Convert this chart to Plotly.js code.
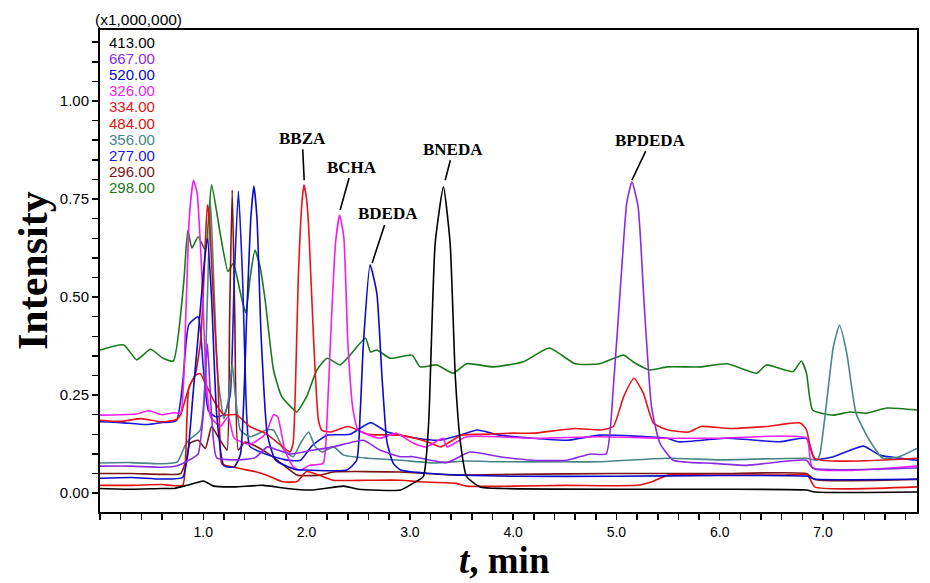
<!DOCTYPE html>
<html>
<head>
<meta charset="utf-8">
<script src="https://cdn.plot.ly/plotly-3.0.1.min.js"></script>
<style>
  body { margin: 0; background: #fff; }
  #plot-area { width: 930px; height: 583px; }
</style>
</head>
<body>
<div id="plot-area"></div>
<script>
// ion channels (m/z) in legend order
var channels = ["413.00", "667.00", "520.00", "326.00", "334.00", "484.00", "356.00", "277.00", "296.00", "298.00"];
var colors = ["#000000", "#8a2be2", "#0a0ac8", "#f01ef0", "#e8141c", "#e01010", "#4a8585", "#1818d8", "#7d1515", "#1a7a1a"];

// retention time (min) / intensity (x1,000,000)
var t413 = [0, 0.3, 0.6, 0.72, 0.84, 0.95, 1.0, 1.05, 1.1, 1.3, 1.58, 1.81, 2.05, 2.36, 2.5, 2.91, 3.03, 3.13, 3.18, 3.245, 3.325, 3.39, 3.44, 3.49, 3.55, 3.68, 3.9, 5.0, 6.0, 6.84, 6.92, 7.91];
var i413 = [0.012, 0.01, 0.012, 0.012, 0.02, 0.028, 0.031, 0.025, 0.018, 0.016, 0.02, 0.012, 0.008, 0.018, 0.01, 0.008, 0.025, 0.042, 0.17, 0.637, 0.781, 0.637, 0.297, 0.128, 0.042, 0.016, 0.012, 0.01, 0.01, 0.008, 0.003, 0.003];

var t667 = [0, 0.3, 0.6, 0.75, 0.83, 0.9, 0.95, 1.0, 1.04, 1.08, 1.13, 1.3, 1.5, 1.62, 1.72, 1.85, 2.07, 2.26, 2.55, 2.71, 2.91, 3.03, 3.36, 3.58, 3.87, 4.19, 4.52, 4.75, 4.9, 4.97, 5.05, 5.1, 5.15, 5.21, 5.27, 5.34, 5.42, 5.55, 5.94, 6.26, 6.84, 6.9, 7.91];
var i667 = [0.069, 0.069, 0.066, 0.07, 0.08, 0.09, 0.1, 0.2, 0.38, 0.2, 0.09, 0.085, 0.09, 0.118, 0.11, 0.1, 0.11, 0.118, 0.135, 0.11, 0.093, 0.093, 0.078, 0.105, 0.093, 0.084, 0.084, 0.1, 0.1, 0.27, 0.569, 0.74, 0.794, 0.73, 0.475, 0.22, 0.128, 0.084, 0.076, 0.071, 0.084, 0.064, 0.064];

var t520 = [0, 0.3, 0.6, 0.8, 0.85, 0.9, 0.95, 1.0, 1.04, 1.08, 1.13, 1.2, 1.3, 1.36, 1.42, 1.46, 1.49, 1.52, 1.56, 1.62, 1.7, 1.9, 2.0, 2.39, 2.485, 2.52, 2.55, 2.615, 2.68, 2.73, 2.78, 2.84, 2.91, 3.2, 3.5, 4.0, 5.0, 6.0, 6.85, 6.92, 7.91];
var i520 = [0.038, 0.04, 0.036, 0.04, 0.1, 0.25, 0.4, 0.56, 0.65, 0.5, 0.2, 0.07, 0.067, 0.1, 0.45, 0.7, 0.783, 0.7, 0.4, 0.15, 0.084, 0.06, 0.059, 0.059, 0.084, 0.21, 0.38, 0.582, 0.51, 0.297, 0.128, 0.076, 0.059, 0.05, 0.046, 0.043, 0.043, 0.045, 0.043, 0.036, 0.036];

var t326 = [0, 0.2, 0.35, 0.47, 0.6, 0.72, 0.78, 0.83, 0.865, 0.905, 0.94, 0.99, 1.03, 1.07, 1.165, 1.24, 1.3, 1.45, 1.6, 1.68, 1.72, 1.79, 1.87, 1.94, 2.03, 2.16, 2.2, 2.23, 2.28, 2.32, 2.36, 2.4, 2.45, 2.5, 2.71, 2.87, 3.03, 3.16, 3.32, 3.36, 3.55, 4.19, 4.84, 5.5, 6.0, 6.84, 6.9, 7.91];
var i326 = [0.199, 0.2, 0.202, 0.21, 0.2, 0.205, 0.204, 0.45, 0.705, 0.798, 0.765, 0.535, 0.28, 0.195, 0.17, 0.195, 0.14, 0.125, 0.15, 0.2, 0.195, 0.11, 0.067, 0.059, 0.071, 0.076, 0.2, 0.38, 0.637, 0.709, 0.654, 0.38, 0.212, 0.161, 0.14, 0.153, 0.128, 0.118, 0.14, 0.118, 0.144, 0.14, 0.144, 0.14, 0.14, 0.14, 0.064, 0.069];

var t334 = [0, 0.2, 0.4, 0.6, 0.74, 0.78, 0.85, 0.92, 0.97, 1.02, 1.1, 1.2, 1.32, 1.45, 1.6, 1.77, 1.84, 1.87, 1.9, 1.92, 1.955, 1.975, 2.0, 2.02, 2.07, 2.115, 2.15, 2.23, 2.4, 2.6, 2.9, 3.05, 3.2, 3.3, 3.5, 3.7, 4.0, 4.2, 4.6, 4.85, 4.97, 5.07, 5.17, 5.26, 5.36, 5.5, 5.7, 5.82, 6.1, 6.45, 6.78, 6.84, 6.92, 7.91];
var i334 = [0.186, 0.183, 0.19, 0.182, 0.188, 0.2, 0.26, 0.3, 0.305, 0.28, 0.237, 0.2, 0.2, 0.17, 0.153, 0.118, 0.105, 0.128, 0.35, 0.55, 0.74, 0.786, 0.75, 0.68, 0.38, 0.186, 0.16, 0.156, 0.17, 0.15, 0.148, 0.14, 0.128, 0.118, 0.148, 0.15, 0.153, 0.153, 0.165, 0.161, 0.17, 0.246, 0.293, 0.255, 0.178, 0.161, 0.156, 0.17, 0.165, 0.17, 0.179, 0.161, 0.089, 0.089];

var t484 = [0, 0.3, 0.6, 0.8, 0.83, 0.86, 0.92, 0.97, 1.0, 1.02, 1.04, 1.06, 1.08, 1.115, 1.14, 1.16, 1.18, 1.33, 1.5, 1.65, 1.77, 1.91, 2.0, 2.13, 2.26, 2.6, 2.91, 3.1, 3.45, 3.55, 4.0, 4.5, 5.2, 5.35, 5.5, 6.0, 6.6, 6.85, 6.92, 7.91];
var i484 = [0.02, 0.02, 0.022, 0.02, 0.1, 0.27, 0.3, 0.38, 0.51, 0.64, 0.735, 0.7, 0.59, 0.41, 0.3, 0.15, 0.075, 0.064, 0.055, 0.042, 0.029, 0.03, 0.055, 0.045, 0.033, 0.033, 0.033, 0.029, 0.025, 0.018, 0.018, 0.02, 0.02, 0.03, 0.046, 0.046, 0.046, 0.046, 0.016, 0.016];

var t356 = [0, 0.3, 0.6, 0.75, 0.82, 0.86, 0.97, 1.01, 1.04, 1.07, 1.1, 1.14, 1.2, 1.25, 1.28, 1.31, 1.36, 1.455, 1.61, 1.68, 1.78, 1.87, 1.94, 2.02, 2.08, 2.15, 2.26, 2.36, 2.6, 2.91, 3.23, 3.55, 3.87, 4.5, 4.84, 5.49, 6.0, 6.84, 6.94, 6.97, 7.03, 7.1, 7.16, 7.23, 7.32, 7.45, 7.58, 7.74, 7.91];
var i356 = [0.077, 0.078, 0.075, 0.08, 0.12, 0.135, 0.161, 0.25, 0.5, 0.743, 0.55, 0.3, 0.19, 0.25, 0.33, 0.25, 0.16, 0.144, 0.161, 0.161, 0.11, 0.093, 0.127, 0.156, 0.12, 0.105, 0.118, 0.097, 0.089, 0.084, 0.077, 0.082, 0.08, 0.08, 0.08, 0.089, 0.085, 0.089, 0.084, 0.1, 0.22, 0.373, 0.428, 0.357, 0.204, 0.135, 0.089, 0.093, 0.114];

var t277 = [0, 0.2, 0.45, 0.6, 0.74, 0.8, 0.86, 0.95, 1.0, 1.05, 1.12, 1.2, 1.26, 1.3, 1.34, 1.38, 1.42, 1.45, 1.6, 1.8, 1.94, 2.05, 2.2, 2.42, 2.62, 2.78, 3.07, 3.29, 3.49, 3.65, 3.87, 4.52, 4.84, 5.49, 5.6, 6.07, 6.58, 6.84, 6.92, 7.1, 7.39, 7.55, 7.91];
var i277 = [0.182, 0.18, 0.175, 0.18, 0.185, 0.28, 0.43, 0.45, 0.32, 0.21, 0.195, 0.2, 0.25, 0.55, 0.77, 0.55, 0.2, 0.12, 0.1, 0.085, 0.084, 0.12, 0.148, 0.15, 0.18, 0.156, 0.14, 0.135, 0.148, 0.161, 0.148, 0.135, 0.148, 0.14, 0.131, 0.14, 0.131, 0.14, 0.087, 0.093, 0.12, 0.097, 0.084];

var t296 = [0, 0.3, 0.6, 0.78, 0.84, 0.87, 0.95, 1.02, 1.08, 1.13, 1.2, 1.23, 1.255, 1.28, 1.305, 1.34, 1.4, 1.49, 1.65, 1.78, 1.91, 2.13, 2.26, 2.91, 3.45, 4.0, 5.0, 6.0, 6.84, 6.92, 7.91];
var i296 = [0.05, 0.05, 0.048, 0.05, 0.09, 0.127, 0.135, 0.114, 0.17, 0.15, 0.12, 0.11, 0.45, 0.773, 0.45, 0.11, 0.13, 0.122, 0.097, 0.071, 0.046, 0.046, 0.054, 0.054, 0.046, 0.048, 0.05, 0.05, 0.05, 0.035, 0.035];

var t298 = [0, 0.23, 0.355, 0.49, 0.61, 0.71, 0.81, 0.85, 0.89, 0.95, 1.02, 1.08, 1.165, 1.24, 1.29, 1.36, 1.41, 1.455, 1.5, 1.55, 1.6, 1.68, 1.76, 1.86, 1.905, 2.0, 2.1, 2.2, 2.325, 2.42, 2.57, 2.62, 2.68, 2.81, 3.02, 3.1, 3.26, 3.42, 3.55, 3.81, 4.1, 4.35, 4.6, 4.84, 5.07, 5.16, 5.32, 5.49, 5.81, 6.07, 6.36, 6.45, 6.71, 6.79, 6.84, 6.9, 7.1, 7.26, 7.42, 7.62, 7.91];
var i298 = [0.365, 0.378, 0.34, 0.367, 0.344, 0.337, 0.535, 0.67, 0.625, 0.654, 0.62, 0.786, 0.66, 0.565, 0.586, 0.51, 0.46, 0.552, 0.62, 0.577, 0.49, 0.314, 0.246, 0.217, 0.207, 0.246, 0.314, 0.344, 0.327, 0.352, 0.395, 0.36, 0.365, 0.344, 0.352, 0.322, 0.327, 0.306, 0.33, 0.322, 0.335, 0.37, 0.33, 0.33, 0.352, 0.335, 0.314, 0.322, 0.322, 0.33, 0.306, 0.327, 0.31, 0.337, 0.306, 0.212, 0.199, 0.207, 0.204, 0.217, 0.212];

var times = [t413, t667, t520, t326, t334, t484, t356, t277, t296, t298];
var intensities = [i413, i667, i520, i326, i334, i484, i356, i277, i296, i298];

// compound labels and the peak each one points at
var peakNames = ["BBZA", "BCHA", "BDEDA", "BNEDA", "BPDEDA"];
var peakT = [1.977, 2.325, 2.635, 3.342, 5.15];
var peakI = [0.798, 0.722, 0.587, 0.798, 0.798];
var labelDx = [-2, 12, 16, 8, 19];
var labelDy = [-42, -43, -49, -31, -40];

var xTicks = [1, 2, 3, 4, 5, 6, 7];
var xTickText = ["1.0", "2.0", "3.0", "4.0", "5.0", "6.0", "7.0"];
var yTicks = [0, 0.25, 0.5, 0.75, 1.0];
var yTickText = ["0.00", "0.25", "0.50", "0.75", "1.00"];

function DrawChart() {
    var data = [];
    // draw back to front so the black trace ends up over the rest
    for (var k = channels.length - 1; k >= 0; k--) {
        data.push({
            x: times[k],
            y: intensities[k],
            mode: "lines",
            name: channels[k],
            line: {color: colors[k], width: 1.6, shape: "spline", smoothing: 0.5},
            hoverinfo: "x+y+name"
        });
    }

    var annotations = [];
    // legend as coloured text in the top-left corner
    for (var i = 0; i < channels.length; i++) {
        annotations.push({
            xref: "paper", yref: "paper",
            x: 0.008, y: 0.975 - i * 0.0336,
            xanchor: "left", yanchor: "middle",
            text: channels[i], showarrow: false,
            font: {family: "Arial, Liberation Sans, sans-serif", size: 15, color: colors[i]}
        });
    }
    annotations.push({
        xref: "paper", yref: "paper", x: -0.008, y: 1.022,
        xanchor: "left", yanchor: "middle", showarrow: false,
        text: "(x1,000,000)",
        font: {family: "Arial, Liberation Sans, sans-serif", size: 15.5, color: "#000"}
    });
    for (var p = 0; p < peakNames.length; p++) {
        annotations.push({
            x: peakT[p], y: peakI[p], xref: "x", yref: "y",
            text: "<b>" + peakNames[p] + "</b>",
            showarrow: true, arrowhead: 0, arrowwidth: 1.6, arrowcolor: "#000",
            ax: labelDx[p], ay: labelDy[p], standoff: 0, startstandoff: 0,
            font: {family: "Times New Roman, Liberation Serif, serif", size: 17, color: "#000"}
        });
    }
    // axis titles
    annotations.push({
        xref: "paper", yref: "paper", x: -0.082, y: 0.5,
        xanchor: "center", yanchor: "middle", textangle: -90, showarrow: false,
        text: "<b>Intensity</b>",
        font: {family: "Times New Roman, Liberation Serif, serif", size: 42, color: "#000"}
    });
    annotations.push({
        xref: "paper", yref: "paper", x: 0.495, y: -0.147,
        xanchor: "center", yanchor: "bottom", showarrow: false,
        text: "<b><i>t</i>, min</b>",
        font: {family: "Times New Roman, Liberation Serif, serif", size: 37, color: "#000"}
    });

    var layout = {
        width: 930, height: 583,
        margin: {l: 100, r: 13, t: 30, b: 71},
        paper_bgcolor: "#fff", plot_bgcolor: "#fff",
        showlegend: false,
        xaxis: {
            range: [0, 7.91], tickvals: xTicks, ticktext: xTickText,
            ticks: "outside", ticklen: 6, tickwidth: 1.5, tickcolor: "#000",
            minor: {dtick: 0.2, tick0: 0, ticks: "outside", ticklen: 6, tickwidth: 1.5, tickcolor: "#000"},
            showline: true, mirror: true, linewidth: 2, linecolor: "#000",
            showgrid: false, zeroline: false,
            tickfont: {family: "Arial, Liberation Sans, sans-serif", size: 14, color: "#000"}
        },
        yaxis: {
            range: [-0.048, 1.181], tickvals: yTicks, ticktext: yTickText,
            ticks: "outside", ticklen: 6, tickwidth: 1.5, tickcolor: "#000",
            minor: {dtick: 0.05, tick0: 0, ticks: "outside", ticklen: 6, tickwidth: 1.5, tickcolor: "#000"},
            showline: true, mirror: true, linewidth: 2, linecolor: "#000",
            showgrid: false, zeroline: false,
            tickfont: {family: "Arial, Liberation Sans, sans-serif", size: 15, color: "#000"}
        },
        annotations: annotations
    };

    Plotly.newPlot("plot-area", data, layout, {displayModeBar: false, staticPlot: true});
}

DrawChart();
</script>
</body>
</html>
